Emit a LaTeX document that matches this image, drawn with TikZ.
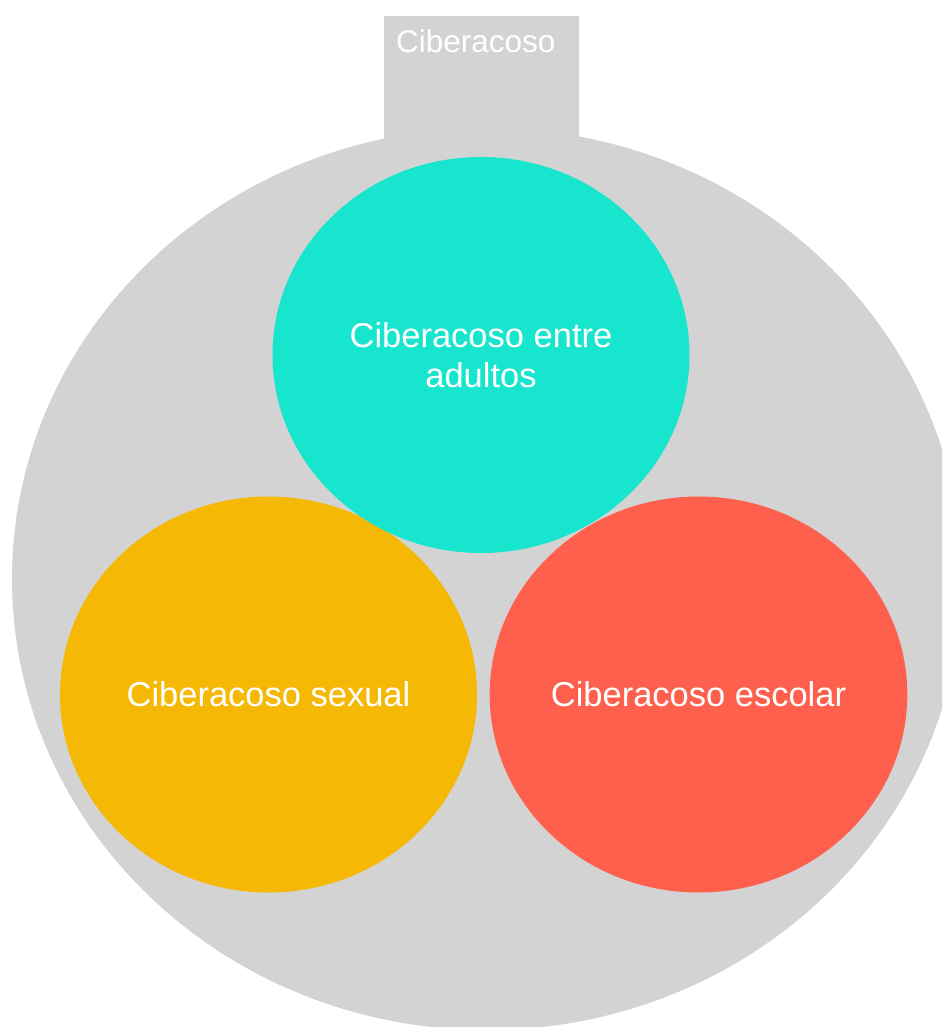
\documentclass[tikz,border=0pt]{standalone}
\usepackage{fontspec}
\setmainfont{Liberation Sans}
\usetikzlibrary{shapes.geometric}
\definecolor{greybg}{RGB}{211,211,211}
\definecolor{tealc}{RGB}{23,229,206}
\definecolor{orangec}{RGB}{245,185,5}
\definecolor{redc}{RGB}{254,96,77}
\tikzset{
  blob/.style={ellipse, inner sep=0pt, minimum width=417pt, minimum height=396pt,
    text=white, align=center, font=\fontsize{34.5}{40}\selectfont},
  tablabel/.style={text=white, inner sep=0pt, font=\fontsize{31.5}{36}\selectfont}
}
\begin{document}
\begin{tikzpicture}[x=1pt,y=-1pt]
\useasboundingbox (0,0) rectangle (942,1027);
\clip (0,0) rectangle (942,1027);
\fill[greybg] (487,579) ellipse [x radius=475, y radius=451];
\fill[greybg] (384,16) rectangle (579,170);
\node[tablabel, anchor=base west] (title) at (396,53) {Ciberacoso};
\node[blob, fill=orangec] (sexual) at (268.5,694.5) {Ciberacoso sexual};
\node[blob, fill=redc] (escolar) at (698.5,694.5) {Ciberacoso escolar};
\node[blob, fill=tealc] (adultos) at (481,355) {Ciberacoso entre\\adultos};
\end{tikzpicture}
\end{document}
